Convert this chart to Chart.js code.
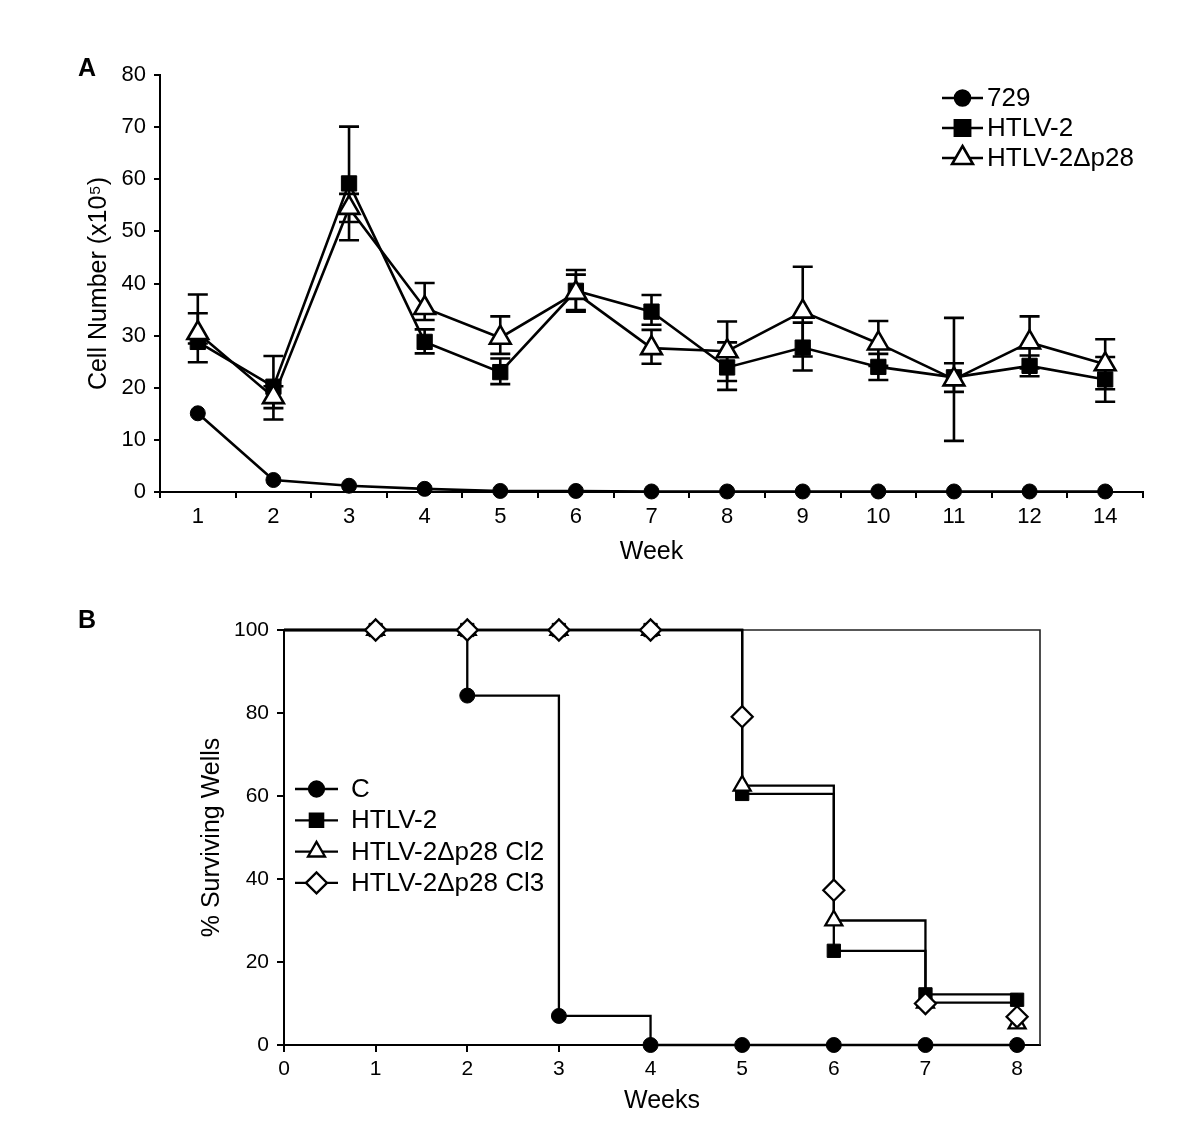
<!DOCTYPE html>
<html>
<head>
<meta charset="utf-8">
<script src="https://cdn.jsdelivr.net/npm/chart.js@4/dist/chart.umd.min.js"></script>
<style>
  html, body { margin: 0; padding: 0; background: #fff; }
  #wrap { position: relative; width: 1200px; height: 1134px; overflow: hidden; }
  canvas { position: absolute; left: 0; }
  #cA { top: 0; }
  #cB { top: 580px; }
  .plabel { position: absolute; font-family: "Liberation Sans", Arial, sans-serif; font-weight: bold; font-size: 25px; line-height: 25px; color: #000; }
</style>
</head>
<body>
<div id="wrap">
  <canvas id="cA" width="1200" height="580"></canvas>
  <canvas id="cB" width="1200" height="554"></canvas>
  <div class="plabel" style="left:78px; top:55px;">A</div>
  <div class="plabel" style="left:78px; top:607px;">B</div>
</div>
<script>
// ---------- Panel A data ----------
const weeksA = ['1','2','3','4','5','6','7','8','9','10','11','12','14'];
const cells729 = [15.1, 2.3, 1.2, 0.6, 0.2, 0.2, 0.1, 0.1, 0.1, 0.1, 0.1, 0.1, 0.1];
const cellsHTLV2 = [28.8, 20.2, 59.2, 28.8, 23.0, 38.6, 34.6, 23.9, 27.7, 24.0, 22.0, 24.2, 21.6];
const errUpHTLV2 = [5.5, 5.9, 10.9, 2.4, 2.6, 4.0, 3.2, 4.8, 4.8, 2.5, 2.7, 2.0, 4.3];
const errDownHTLV2 = [3.9, 6.3, 10.9, 2.2, 2.3, 4.0, 2.5, 4.3, 4.4, 2.5, 2.8, 2.0, 4.3];
const cellsDelta = [30.5, 18.2, 54.5, 35.3, 29.6, 38.2, 27.6, 27.0, 34.6, 28.5, 21.6, 28.7, 24.5];
const errUpDelta = [7.4, 2.1, 2.7, 4.8, 4.1, 3.5, 3.5, 5.7, 8.6, 4.3, 11.8, 5.0, 4.8];
const errDownDelta = [2.0, 2.1, 2.7, 2.3, 3.1, 3.3, 3.0, 5.7, 8.6, 4.3, 11.8, 5.0, 4.8];
const namesA = ['729', 'HTLV-2', 'HTLV-2\u0394p28'];

// ---------- Panel B data ----------
const weeksB = [0, 1, 2, 3, 4, 5, 6, 7, 8];
const survC = [100, 100, 84.2, 7.0, 0, 0, 0, 0, 0];
const survHTLV2 = [100, 100, 100, 100, 100, 60.5, 22.7, 12.2, 10.9];
const survCl2 = [100, 100, 100, 100, 100, 62.5, 30.0, 10.2, 5.2];
const survCl3 = [100, 100, 100, 100, 100, 79.1, 37.3, 10.0, 6.8];
const namesB = ['C', 'HTLV-2', 'HTLV-2\u0394p28 Cl2', 'HTLV-2\u0394p28 Cl3'];

const FONT = '"Liberation Sans", Arial, sans-serif';
Chart.defaults.color = '#000';
Chart.defaults.font.family = FONT;

function drawMarker(ctx, style, x, y, r, fill, lw) {
  ctx.beginPath();
  if (style === 'circle') {
    ctx.arc(x, y, r, 0, Math.PI * 2);
  } else if (style === 'rect') {
    const s = r * Math.SQRT1_2;
    ctx.rect(x - s, y - s, 2 * s, 2 * s);
  } else if (style === 'triangle') {
    ctx.moveTo(x, y - r);
    ctx.lineTo(x + r * 0.8660254, y + r * 0.5);
    ctx.lineTo(x - r * 0.8660254, y + r * 0.5);
    ctx.closePath();
  } else if (style === 'rectRot') {
    ctx.moveTo(x - r, y);
    ctx.lineTo(x, y - r);
    ctx.lineTo(x + r, y);
    ctx.lineTo(x, y + r);
    ctx.closePath();
  }
  ctx.fillStyle = fill;
  ctx.fill();
  ctx.lineWidth = lw;
  ctx.strokeStyle = '#000';
  ctx.stroke();
}

function legendPlugin(items, opts) {
  return {
    id: 'customLegend',
    afterDraw(chart) {
      const ctx = chart.ctx;
      ctx.save();
      items.forEach((it, i) => {
        const y = opts.y0 + i * opts.dy;
        ctx.beginPath();
        ctx.moveTo(opts.x1, y);
        ctx.lineTo(opts.x2, y);
        ctx.lineWidth = opts.lw;
        ctx.strokeStyle = '#000';
        ctx.stroke();
        drawMarker(ctx, it.style, (opts.x1 + opts.x2) / 2, y, it.r, it.fill, opts.lw);
        ctx.fillStyle = '#000';
        ctx.font = opts.size + 'px ' + FONT;
        ctx.textBaseline = 'middle';
        ctx.textAlign = 'left';
        ctx.fillText(it.label, opts.tx, y + 1);
      });
      ctx.restore();
    }
  };
}

// ---------- Chart A ----------
const errSetsA = [
  { ds: 1, up: errUpHTLV2, down: errDownHTLV2 },
  { ds: 2, up: errUpDelta, down: errDownDelta }
];
const errorBarPlugin = {
  id: 'errorBars',
  beforeDatasetsDraw(chart) {
    const ctx = chart.ctx;
    const ys = chart.scales.y;
    ctx.save();
    ctx.strokeStyle = '#000';
    ctx.lineWidth = 2.6;
    errSetsA.forEach(set => {
      const meta = chart.getDatasetMeta(set.ds);
      const vals = chart.data.datasets[set.ds].data;
      meta.data.forEach((pt, i) => {
        const v = vals[i];
        const yt = ys.getPixelForValue(v + set.up[i]);
        const yb = ys.getPixelForValue(v - set.down[i]);
        ctx.beginPath();
        ctx.moveTo(pt.x, yt); ctx.lineTo(pt.x, yb);
        ctx.moveTo(pt.x - 10, yt); ctx.lineTo(pt.x + 10, yt);
        ctx.moveTo(pt.x - 10, yb); ctx.lineTo(pt.x + 10, yb);
        ctx.stroke();
      });
    });
    ctx.restore();
  }
};

new Chart(document.getElementById('cA'), {
  type: 'line',
  data: {
    labels: weeksA,
    datasets: [
      { label: namesA[0], data: cells729, borderColor: '#000', borderWidth: 2.6,
        pointStyle: 'circle', pointRadius: 7.5, pointBackgroundColor: '#000', pointBorderColor: '#000', pointBorderWidth: 1,
        order: 2, clip: false },
      { label: namesA[1], data: cellsHTLV2, borderColor: '#000', borderWidth: 2.6,
        pointStyle: 'rect', pointRadius: 10.8, pointBackgroundColor: '#000', pointBorderColor: '#000', pointBorderWidth: 1,
        order: 1, clip: false },
      { label: namesA[2], data: cellsDelta, borderColor: '#000', borderWidth: 2.6,
        pointStyle: 'triangle', pointRadius: 12, pointBackgroundColor: '#fff', pointBorderColor: '#000', pointBorderWidth: 2.6,
        order: 0, clip: false }
    ]
  },
  options: {
    responsive: false, animation: false, devicePixelRatio: 1,
    layout: { padding: { left: 81, right: 57, top: 75, bottom: 0 } },
    plugins: { legend: { display: false }, tooltip: { enabled: false } },
    scales: {
      x: {
        type: 'category', offset: true,
        grid: { offset: true, drawOnChartArea: false, drawTicks: true, tickLength: 6, color: '#000', lineWidth: 2 },
        border: { color: '#000', width: 2 },
        ticks: { font: { size: 22, family: FONT }, padding: 6, color: '#000', maxRotation: 0 },
        title: { display: true, text: 'Week', font: { size: 25, family: FONT }, color: '#000', padding: { top: 0, bottom: 13 } },
        afterFit(s) { s.height = 88; }
      },
      y: {
        min: 0, max: 80,
        grid: { drawOnChartArea: false, drawTicks: true, tickLength: 6, color: '#000', lineWidth: 2 },
        border: { color: '#000', width: 2 },
        ticks: { stepSize: 10, font: { size: 22, family: FONT }, padding: 8, color: '#000' },
        title: { display: true, text: 'Cell Number (x10\u2075)', font: { size: 25, family: FONT }, color: '#000', padding: { top: 3, bottom: 0 } },
        afterFit(s) { s.width = 79; }
      }
    }
  },
  plugins: [errorBarPlugin, legendPlugin([
    { label: namesA[0], style: 'circle', r: 7.5, fill: '#000' },
    { label: namesA[1], style: 'rect', r: 10.8, fill: '#000' },
    { label: namesA[2], style: 'triangle', r: 12, fill: '#fff' }
  ], { x1: 942, x2: 983, y0: 98, dy: 30, tx: 987, size: 26, lw: 2.6 })]
});

// ---------- Chart B ----------
const boxPlugin = {
  id: 'box',
  beforeDatasetsDraw(chart) {
    const a = chart.chartArea, ctx = chart.ctx;
    ctx.save();
    ctx.strokeStyle = '#222';
    ctx.lineWidth = 1.6;
    ctx.beginPath();
    ctx.moveTo(a.left, a.top); ctx.lineTo(a.right, a.top); ctx.lineTo(a.right, a.bottom);
    ctx.stroke();
    ctx.restore();
  }
};
const toXY = arr => weeksB.map((w, i) => ({ x: w, y: arr[i] }));
const hideFirst = r => ctx => (ctx.dataIndex === 0 ? 0 : r);

new Chart(document.getElementById('cB'), {
  type: 'line',
  data: {
    datasets: [
      { label: namesB[0], data: toXY(survC), stepped: 'before', borderColor: '#000', borderWidth: 2.3,
        pointStyle: 'circle', pointRadius: hideFirst(7.5), pointBackgroundColor: '#000', pointBorderColor: '#000', pointBorderWidth: 1,
        order: 3, clip: false },
      { label: namesB[1], data: toXY(survHTLV2), stepped: 'before', borderColor: '#000', borderWidth: 2.3,
        pointStyle: 'rect', pointRadius: hideFirst(9.4), pointBackgroundColor: '#000', pointBorderColor: '#000', pointBorderWidth: 1,
        order: 2, clip: false },
      { label: namesB[2], data: toXY(survCl2), stepped: 'before', borderColor: '#000', borderWidth: 2.3,
        pointStyle: 'triangle', pointRadius: hideFirst(9.8), pointBackgroundColor: '#fff', pointBorderColor: '#000', pointBorderWidth: 2.3,
        order: 1, clip: false },
      { label: namesB[3], data: toXY(survCl3), showLine: false, borderColor: '#000', borderWidth: 2.3,
        pointStyle: 'rectRot', pointRadius: hideFirst(10.5), pointBackgroundColor: '#fff', pointBorderColor: '#000', pointBorderWidth: 2.3,
        order: 0, clip: false }
    ]
  },
  options: {
    responsive: false, animation: false, devicePixelRatio: 1,
    layout: { padding: { left: 195, right: 160, top: 50, bottom: 0 } },
    plugins: { legend: { display: false }, tooltip: { enabled: false } },
    scales: {
      x: {
        type: 'linear', min: 0, max: 8.25,
        grid: { drawOnChartArea: false, drawTicks: true, tickLength: 7, color: '#000', lineWidth: 2 },
        border: { color: '#000', width: 2 },
        ticks: { stepSize: 1, includeBounds: false, font: { size: 21, family: FONT }, padding: 5, color: '#000', maxRotation: 0 },
        title: { display: true, text: 'Weeks', font: { size: 25, family: FONT }, color: '#000', padding: { top: 0, bottom: 18 } },
        afterFit(s) { s.height = 89; }
      },
      y: {
        min: 0, max: 100,
        grid: { drawOnChartArea: false, drawTicks: true, tickLength: 7, color: '#000', lineWidth: 2 },
        border: { color: '#000', width: 2 },
        ticks: { stepSize: 20, font: { size: 21, family: FONT }, padding: 8, color: '#000' },
        title: { display: true, text: '% Surviving Wells', font: { size: 25, family: FONT }, color: '#000', padding: { top: 2, bottom: 0 } },
        afterFit(s) { s.width = 89; }
      }
    }
  },
  plugins: [boxPlugin, legendPlugin([
    { label: namesB[0], style: 'circle', r: 7.5, fill: '#000' },
    { label: namesB[1], style: 'rect', r: 9.4, fill: '#000' },
    { label: namesB[2], style: 'triangle', r: 9.8, fill: '#fff' },
    { label: namesB[3], style: 'rectRot', r: 10.5, fill: '#fff' }
  ], { x1: 295, x2: 338, y0: 209, dy: 31.3, tx: 351, size: 26, lw: 2.3 })]
});
</script>
</body>
</html>
